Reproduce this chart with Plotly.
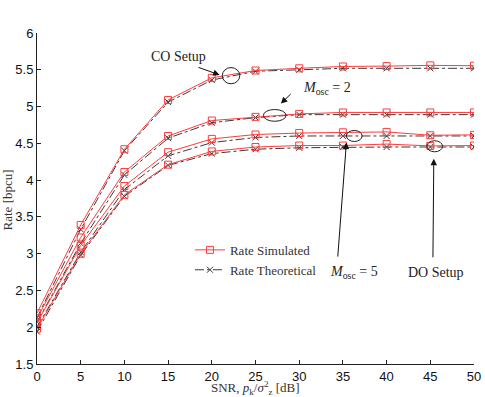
import plotly.graph_objects as go

snr = [0, 5, 10, 15, 20, 25, 30, 35, 40, 45, 50]

# simulated rates (bpcu)
co_sim = [2.19, 3.39, 4.42, 5.09, 5.39, 5.49, 5.52, 5.545, 5.55, 5.56, 5.555]
m2_sim = [2.12, 3.22, 4.11, 4.60, 4.81, 4.86, 4.90, 4.92, 4.92, 4.92, 4.92]
m5_sim = [2.06, 3.11, 3.92, 4.38, 4.56, 4.62, 4.64, 4.65, 4.655, 4.61, 4.615]
do_sim = [1.98, 3.00, 3.80, 4.21, 4.39, 4.45, 4.47, 4.47, 4.49, 4.465, 4.47]

# theoretical rates (bpcu)
co_th = [2.13, 3.33, 4.40, 5.06, 5.36, 5.48, 5.50, 5.52, 5.52, 5.52, 5.52]
m2_th = [2.07, 3.14, 4.07, 4.57, 4.78, 4.85, 4.89, 4.89, 4.89, 4.89, 4.89]
m5_th = [2.00, 3.02, 3.87, 4.33, 4.51, 4.58, 4.60, 4.60, 4.60, 4.60, 4.60]
do_th = [1.94, 2.98, 3.78, 4.20, 4.36, 4.42, 4.44, 4.45, 4.45, 4.45, 4.45]

sims = [co_sim, m2_sim, m5_sim, do_sim]
ths = [co_th, m2_th, m5_th, do_th]

serif = "Liberation Serif"
sans = "Liberation Sans"

fig = go.Figure()
for i, (s, t) in enumerate(zip(sims, ths)):
    fig.add_trace(go.Scatter(
        x=snr, y=t, mode="lines+markers", name="Rate Theoretical",
        showlegend=(i == 0), legendrank=2,
        line=dict(color="#3a3a3a", width=1, dash="dashdot"),
        marker=dict(symbol="x-thin", size=6, line=dict(color="#3a3a3a", width=1))))
    fig.add_trace(go.Scatter(
        x=snr, y=s, mode="lines+markers", name="Rate Simulated",
        showlegend=(i == 0), legendrank=1,
        line=dict(color="#ff3b3b", width=1),
        marker=dict(symbol="square-open", size=7, color="#ff3b3b",
                    line=dict(color="#ff3b3b", width=1))))

# ellipses marking the setups
ellipses = [(21.2, 23.2, 5.31, 5.53), (25.9, 28.5, 4.80, 4.96),
            (35.4, 37.2, 4.525, 4.675), (44.6, 46.4, 4.385, 4.535)]
for x0, x1, y0, y1 in ellipses:
    fig.add_shape(type="circle", xref="x", yref="y", x0=x0, x1=x1, y0=y0, y1=y1,
                  line=dict(color="#222", width=1))

# arrows (head x,y ; tail ax,ay)
arrows = [(20.9, 5.43, 18.3, 5.54), (27.9, 5.04, 29.2, 5.19),
          (35.4, 4.51, 34.4, 2.94), (45.4, 4.29, 45.3, 2.93)]
for x, y, ax, ay in arrows:
    fig.add_annotation(x=x, y=y, ax=ax, ay=ay, xref="x", yref="y", axref="x", ayref="y",
                       text="", showarrow=True, arrowhead=2, arrowsize=1.3,
                       arrowwidth=1, arrowcolor="#111")

labels = [(16.2, 5.68, "CO Setup"),
          (33.2, 5.24, "<i>M</i><sub>osc</sub> = 2"),
          (36.3, 2.75, "<i>M</i><sub>osc</sub> = 5"),
          (45.7, 2.75, "DO Setup")]
for x, y, t in labels:
    fig.add_annotation(x=x, y=y, xref="x", yref="y", text=t, showarrow=False,
                       font=dict(family=serif, size=14, color="#222"))

# axis titles
fig.add_annotation(x=-0.068, y=0.495, xref="paper", yref="paper", textangle=-90,
                   xanchor="center", yanchor="middle",
                   text="Rate [bpcu]", showarrow=False,
                   font=dict(family=serif, size=13, color="#333"))
fig.add_annotation(x=0.5, y=-0.072, xref="paper", yref="paper",
                   xanchor="center", yanchor="middle",
                   text="SNR, <i>p</i><sub>k</sub>/<i>σ</i><sup>2</sup><sub>z</sub> [dB]",
                   showarrow=False, font=dict(family=serif, size=13, color="#333"))

fig.update_layout(
    width=485, height=397,
    margin=dict(l=37, r=11, t=33, b=33),
    paper_bgcolor="white", plot_bgcolor="white",
    showlegend=True,
    legend=dict(x=0.35, y=0.39, xanchor="left", yanchor="top",
                bgcolor="rgba(0,0,0,0)", font=dict(family=serif, size=13, color="#333"),
                tracegroupgap=0, itemwidth=30),
    xaxis=dict(range=[0, 50], tickmode="array", tickvals=list(range(0, 55, 5)),
               ticks="inside", ticklen=4, tickcolor="#222", showline=True,
               linecolor="#222", linewidth=1, showgrid=False, zeroline=False,
               automargin=False,
               tickfont=dict(family=sans, size=13, color="#111")),
    yaxis=dict(range=[1.5, 6], tickmode="array", tickvals=[1.5, 2, 2.5, 3, 3.5, 4, 4.5, 5, 5.5, 6],
               ticktext=["1.5", "2", "2.5", "3", "3.5", "4", "4.5", "5", "5.5", "6"],
               ticks="inside", ticklen=4, tickcolor="#222", showline=True,
               linecolor="#222", linewidth=1, showgrid=False, zeroline=False,
               automargin=False,
               tickfont=dict(family=sans, size=13, color="#111")),
)

# drop the default 8px body margin so the figure fills the window exactly
fig.write_html("out.html", config={"displayModeBar": False},
               post_script="document.body.style.margin='0';")
